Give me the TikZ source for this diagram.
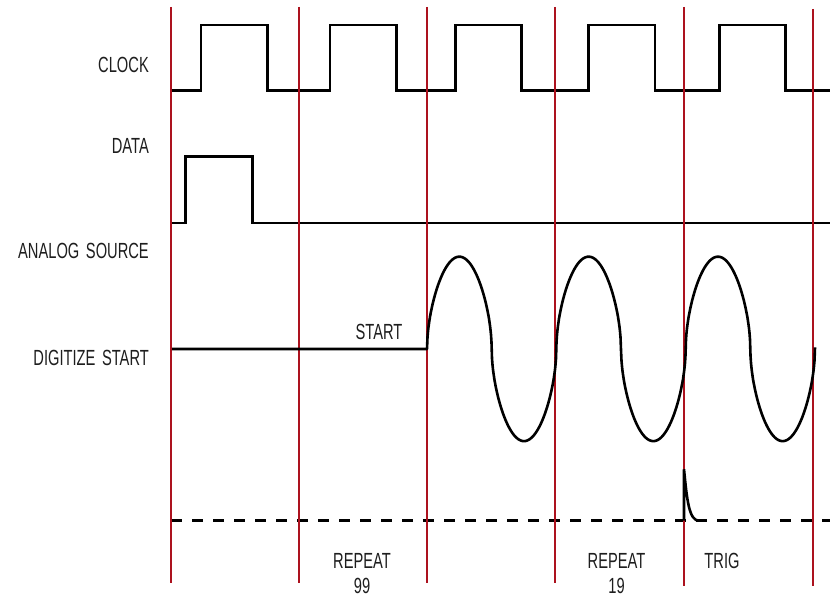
\documentclass[tikz,border=0pt]{standalone}
\usepackage{fontspec}
\setmainfont[FakeStretch=0.67]{Liberation Sans}
\definecolor{gridred}{RGB}{172,18,30}
\definecolor{txt}{RGB}{30,30,30}
\tikzset{
  sig/.style={line width=2.6bp, line join=miter, line cap=butt, black},
  gridline/.style={draw=gridred, line width=1.7bp},
  lbl/.style={font=\fontsize{22}{26}\selectfont, text=txt, inner sep=0pt},
  dashsig/.style={line width=2.6bp, black, dash pattern=on 11bp off 10bp}
}
\begin{document}
\begin{tikzpicture}[x=1bp,y=-1bp]
\fill[white] (0,0) rectangle (830,596);
\useasboundingbox (0,0) rectangle (830,596);

% labels
\node[lbl, anchor=east] (lclock) at (149,64.5) {CLOCK};
\node[lbl, anchor=east] (ldata) at (149,145.7) {DATA};
\node[lbl, anchor=east] (lanalog) at (149,250.7) {ANALOG\hspace{0.3em}SOURCE};
\node[lbl, anchor=east] (ldig) at (149,357.7) {DIGITIZE\hspace{0.3em}START};
\node[lbl] (lstart) at (379,331.5) {START};
\node[lbl] (lrep1) at (362,560.5) {REPEAT};
\node[lbl] (l99) at (362,585.5) {99};
\node[lbl] (lrep2) at (616.5,560.5) {REPEAT};
\node[lbl] (l19) at (616.5,585.5) {19};
\node[lbl] (ltrig) at (722,560.5) {TRIG};

% clock
\draw[sig] (172,90.7) -- (201,90.7) -- (201,25) -- (267.5,25) -- (267.5,90.7)
  -- (330,90.7) -- (330,25) -- (396.5,25) -- (396.5,90.7)
  -- (455.7,90.7) -- (455.7,25) -- (521.7,25) -- (521.7,90.7)
  -- (588.3,90.7) -- (588.3,25) -- (655,25) -- (655,90.7)
  -- (719.3,90.7) -- (719.3,25) -- (785.7,25) -- (785.7,90.7)
  -- (830,90.7);

% data
\draw[sig] (172,223) -- (185.7,223) -- (185.7,156.7) -- (252.7,156.7)
  -- (252.7,223) -- (830,223);

% trigger baseline
\draw[dashsig] (171,520.7) -- (830,520.7);

% grid lines
\draw[gridline] (171,7) -- (171,582.7);
\draw[gridline] (299,7) -- (299,582.7);
\draw[gridline] (427,7) -- (427,582.7);
\draw[gridline] (555,7) -- (555,582.7);
\draw[gridline] (684,7) -- (684,586);
\draw[gridline] (813,9) -- (813,586);

% digitize start / analog source
\draw[sig, line join=round] (172,349) -- (427,349) -- plot[domain=0:388, samples=777]
  ({427+\x}, {348.9 - 92.2*sign(sin(2.78358*\x))*(abs(sin(2.78358*\x))+0.00001)^0.55});

% trigger spike
\draw[sig, line join=miter] (684,520.7) -- (684,469.3)
  .. controls (687,500) and (689,520.7) .. (699,520.7);
\end{tikzpicture}
\end{document}
